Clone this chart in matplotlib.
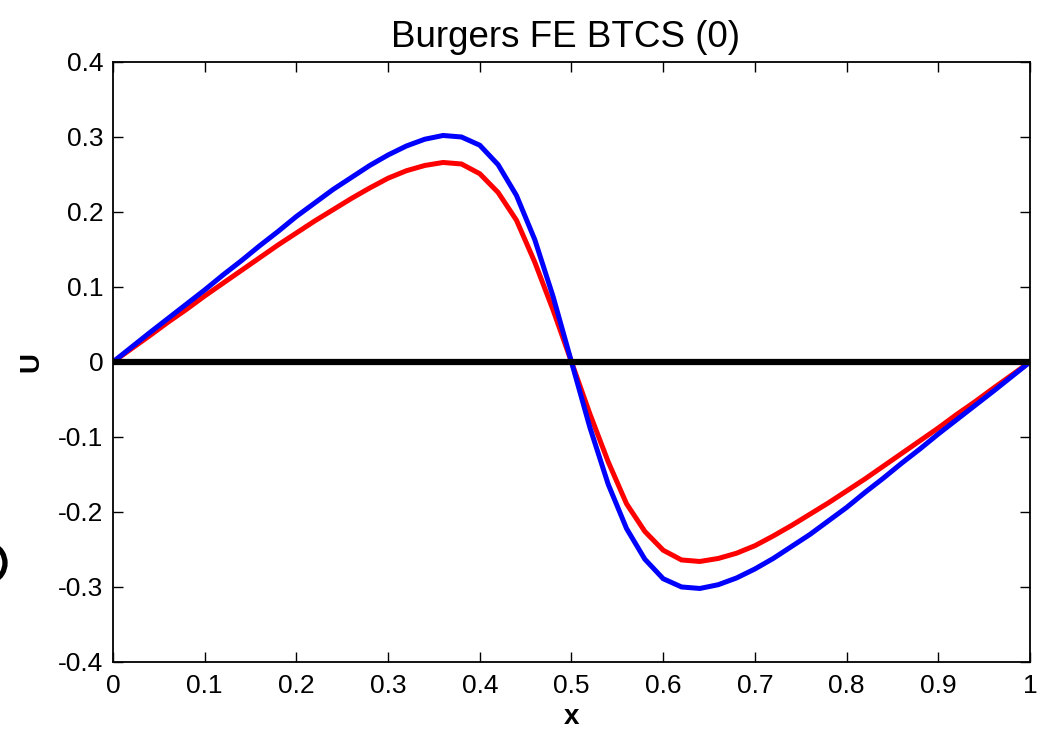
import matplotlib.pyplot as plt
from matplotlib.patches import Arc

plt.rcParams['font.family'] = ['Liberation Sans', 'DejaVu Sans']

# grid points and the two solution curves
x = [0.00, 0.02, 0.04, 0.06, 0.08, 0.10, 0.12, 0.14, 0.16, 0.18,
     0.20, 0.22, 0.24, 0.26, 0.28, 0.30, 0.32, 0.34, 0.36, 0.38,
     0.40, 0.42, 0.44, 0.46, 0.48, 0.50, 0.52, 0.54, 0.56, 0.58,
     0.60, 0.62, 0.64, 0.66, 0.68, 0.70, 0.72, 0.74, 0.76, 0.78,
     0.80, 0.82, 0.84, 0.86, 0.88, 0.90, 0.92, 0.94, 0.96, 0.98, 1.00]

u_blue = [0.000, 0.0195, 0.039, 0.058, 0.077, 0.096, 0.116, 0.135, 0.155, 0.174,
          0.194, 0.212, 0.230, 0.246, 0.262, 0.276, 0.288, 0.297, 0.302, 0.300,
          0.289, 0.263, 0.222, 0.163, 0.087, 0.000, -0.087, -0.163, -0.222, -0.263,
          -0.289, -0.300, -0.302, -0.297, -0.288, -0.276, -0.262, -0.246, -0.230, -0.212,
          -0.194, -0.174, -0.155, -0.135, -0.116, -0.096, -0.077, -0.058, -0.039, -0.0195, 0.000]

u_red = [0.000, 0.0175, 0.035, 0.053, 0.070, 0.088, 0.105, 0.122, 0.139, 0.156,
         0.172, 0.188, 0.203, 0.218, 0.232, 0.245, 0.255, 0.262, 0.266, 0.264,
         0.251, 0.226, 0.189, 0.133, 0.069, 0.000, -0.069, -0.133, -0.189, -0.226,
         -0.251, -0.264, -0.266, -0.262, -0.255, -0.245, -0.232, -0.218, -0.203, -0.188,
         -0.172, -0.156, -0.139, -0.122, -0.105, -0.088, -0.070, -0.053, -0.035, -0.0175, 0.000]

xticks = [0, 0.1, 0.2, 0.3, 0.4, 0.5, 0.6, 0.7, 0.8, 0.9, 1]
xtick_labels = ['0', '0.1', '0.2', '0.3', '0.4', '0.5', '0.6', '0.7', '0.8', '0.9', '1']
yticks = [-0.4, -0.3, -0.2, -0.1, 0, 0.1, 0.2, 0.3, 0.4]
ytick_labels = ['-0.4', '-0.3', '-0.2', '-0.1', '0', '0.1', '0.2', '0.3', '0.4']

fig = plt.figure(figsize=(10.44, 7.30), dpi=100)
ax = fig.add_axes([0.1082, 0.0932, 0.8784, 0.8219])

ax.plot(x, u_red, color='#ff0000', lw=3.6, solid_joinstyle='miter')
ax.plot(x, u_blue, color='#0000ff', lw=3.6, solid_joinstyle='miter')
ax.plot([0, 1], [0, 0], color='black', lw=4.5)

ax.set_xlim(0, 1)
ax.set_ylim(-0.4, 0.4)
ax.set_xticks(xticks)
ax.set_xticklabels(xtick_labels)
ax.set_yticks(yticks)
ax.set_yticklabels(ytick_labels)
ax.tick_params(direction='in', length=7, width=1, labelsize=19, top=True, right=True)
ax.tick_params(axis='x', pad=9)
ax.tick_params(axis='y', pad=7)
for s in ax.spines.values():
    s.set_linewidth(1.3)

ax.set_title('Burgers FE BTCS (0)', fontsize=26.5, pad=11, x=0.494)
ax.set_xlabel('x', fontsize=20, fontweight='bold', labelpad=4)
ax.set_ylabel('U', fontsize=20, fontweight='bold', labelpad=10)

# partial ring clipped at the left edge of the figure
ring = Arc((-15 / 1044, 167 / 730), 40 / 1044, 40 / 730, theta1=-70, theta2=70,
           transform=fig.transFigure, color='black', lw=3.8, clip_on=False)
fig.patches.append(ring)

fig.savefig('out.png', dpi=100)
